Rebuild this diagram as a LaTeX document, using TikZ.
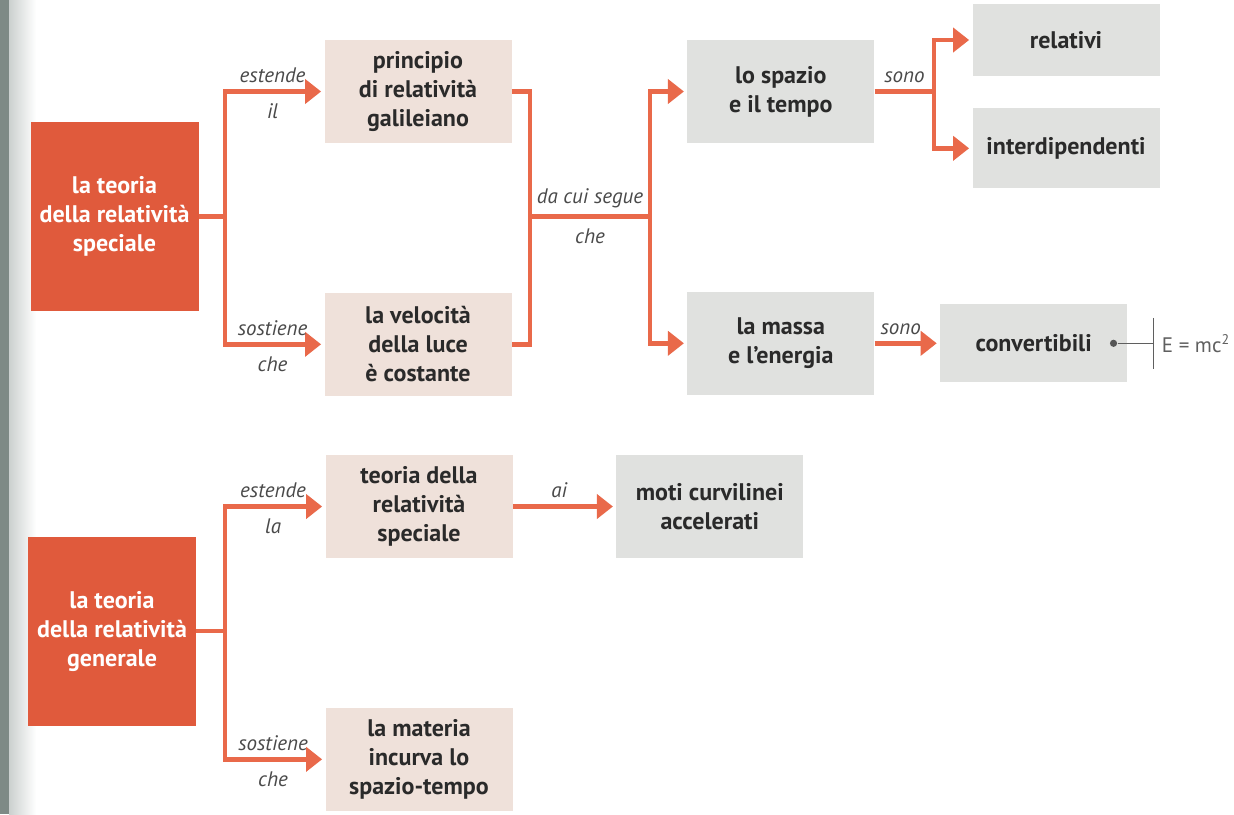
\documentclass[tikz,border=0pt]{standalone}
\usepackage{fontspec}
\setmainfont{PT Sans}
\usetikzlibrary{positioning,arrows.meta,calc}
\definecolor{redbox}{HTML}{E05A3C}
\definecolor{redln}{HTML}{E9694A}
\definecolor{pinkbox}{HTML}{EFE1DA}
\definecolor{greybox}{HTML}{E0E1DF}
\definecolor{txt}{HTML}{2A2A2A}
\definecolor{spine}{HTML}{7E8A86}
\tikzset{
  box/.style    ={inner sep=2pt, align=center, minimum width=93.5pt,
                  minimum height=51.5pt, text=txt,
                  font=\fontsize{12}{14.5}\selectfont\bfseries},
  theory/.style ={box, fill=redbox, text=white, minimum width=84pt,
                  minimum height=94.5pt},
  concept/.style={box, fill=pinkbox},
  result/.style ={box, fill=greybox},
  ln/.style     ={draw=redln, line width=2.4pt},
  fl/.style     ={ln, -{Triangle[length=8pt,width=12pt]}, shorten >=1.5pt},
  lab/.style    ={font=\fontsize{10.5}{12}\selectfont\itshape, text=txt!85,
                  inner sep=1pt},
  formula/.style={font=\fontsize{10.5}{12}\selectfont, text=txt!75,
                  minimum height=25pt, inner xsep=4pt, inner ysep=0pt},
  dotc/.style   ={circle, fill=txt!80, inner sep=0pt, minimum size=3.6pt},
  tie/.style    ={draw=txt!75, line width=0.7pt},
}

\begin{document}
\begin{tikzpicture}[x=0.5pt,y=-0.5pt]
  \useasboundingbox[fill=white] (0,0) rectangle (1234,814);
  % binding shadow
  \fill[spine] (0,0) rectangle (9,814);
  \shade[left color=spine!40, right color=white] (9,0) rectangle (36,814);

  % relativita' speciale
  \node[theory](srel) at (114.5,216.5){la teoria\\ della relatività\\ speciale};
  \node[concept](gal) at (418,91.5){principio\\ di relatività\\ galileiano};
  \node[concept, below=74.5pt of gal](vel){la velocità\\ della luce\\ è costante};
  \node[result, right=87.5pt of gal](spt){lo spazio\\ e il tempo};
  \node[result, below=74pt of spt](mas){la massa\\ e l'energia};
  \node[result, minimum height=36pt](rel) at (1066,40){relativi};
  \node[result, minimum height=40pt, below=15.75pt of rel](inter){interdipendenti};
  \node[result, minimum height=39pt, right=32.5pt of mas](conv){convertibili};

  \coordinate (s1) at (225,216.5);
  \draw[ln](srel) -- (s1);
  \draw[fl](s1) |- node[lab, above=2pt, pos=.74]{estende}
                   node[lab, below=4pt, pos=.74]{il} (gal.west);
  \draw[fl](s1) |- node[lab, above=2pt, pos=.74]{sostiene}
                   node[lab, below=4pt, pos=.74]{che} (vel.west);

  % da cui segue che
  \coordinate (j1) at (530,216.5);
  \coordinate (j2) at (650,216.5);
  \draw[ln](gal.east) -| (j1) |- (vel.east);
  \draw[ln](j1) -- node[lab, above=2pt]{da cui segue}
                   node[lab, below=4pt]{che} (j2);
  \draw[fl](j2) |- (spt.west);
  \draw[fl](j2) |- (mas.west);

  \coordinate (s3) at (934,91.5);
  \draw[ln](spt) -- node[lab, above=2pt]{sono} (s3);
  \draw[fl](s3) |- (rel.west);
  \draw[fl](s3) |- (inter.west);
  \draw[fl](mas) -- node[lab, above=2pt, pos=.4]{sono} (conv);

  % E = mc^2
  \node[dotc](dot) at ($(conv.east)+(-7pt,0)$){};
  \node[formula, right=18pt of dot](eq){E = mc\textsuperscript{\scriptsize 2}};
  \draw[tie](dot) -- (eq.west);
  \draw[tie](eq.north west) -- (eq.south west);

  % relativita' generale
  \node[theory](grel) at (112,631){la teoria\\ della relatività\\ generale};
  \node[concept](tsp) at (419,506.5){teoria della\\ relatività\\ speciale};
  \node[concept, below=74.5pt of tsp](mat){la materia\\ incurva lo\\ spazio-tempo};
  \node[result, right=51.5pt of tsp](moti){moti curvilinei\\ accelerati};

  \coordinate (s2) at (225,631);
  \draw[ln](grel) -- (s2);
  \draw[fl](s2) |- node[lab, above=2pt, pos=.74]{estende}
                   node[lab, below=4pt, pos=.74]{la} (tsp.west);
  \draw[fl](s2) |- node[lab, above=2pt, pos=.74]{sostiene}
                   node[lab, below=4pt, pos=.74]{che} (mat.west);
  \draw[fl](tsp) -- node[lab, above=2pt, pos=.45]{ai} (moti);
\end{tikzpicture}
\end{document}
